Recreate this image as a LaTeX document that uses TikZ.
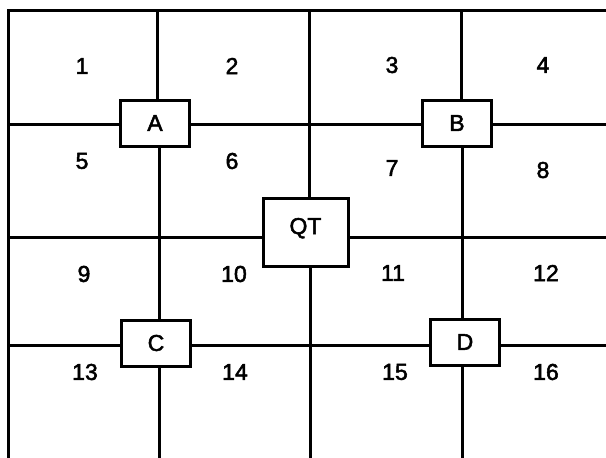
\documentclass[tikz,border=0pt]{standalone}
\usepackage{fontspec}
\setmainfont[FakeBold=2.2,AutoFakeBold=false]{Liberation Sans}
\begin{document}
\begin{tikzpicture}[x=1pt,y=-1pt,
  gridline/.style={line width=3pt,black},
  junction/.style={draw,line width=3pt,fill=white,minimum width=69pt,minimum height=46pt,inner sep=0pt,font=\fontsize{23}{26}\selectfont},
  qtbox/.style={junction,minimum width=85pt,minimum height=68pt,anchor=center},
  cellnum/.style={font=\fontsize{23}{26}\selectfont,inner sep=0pt}]
\useasboundingbox (0,0) rectangle (606,458);
% frame coordinates
\coordinate (tl) at (8,10);
\coordinate (tr) at (606,10);
\coordinate (bl) at (8,458);
\coordinate (v1t) at (157,10);  \coordinate (v1b) at (159,458);
\coordinate (v2t) at (309,10);  \coordinate (v2b) at (310,458);
\coordinate (v3t) at (461,10);  \coordinate (v3b) at (462,458);
\coordinate (h1l) at (8,124);   \coordinate (h1r) at (606,124);
\coordinate (h2l) at (8,237);   \coordinate (h2r) at (606,237);
\coordinate (h3l) at (8,345);   \coordinate (h3r) at (606,345);
% boxes
\node[junction] (A) at (155,123) {A};
\node[junction] (B) at (457,123) {B};
\node[junction] (C) at (156,343) {C};
\node[junction] (D) at (465,342) {D};
\node[qtbox] (QT) at (305.5,232) {\raisebox{12pt}{QT}};
% frame
\draw[gridline] (bl) -- (tl) -- (tr);
% horizontals
\draw[gridline] (h1l) -- (h1l -| A.west);
\draw[gridline] (h1l -| A.east) -- (h1l -| B.west);
\draw[gridline] (h1l -| B.east) -- (h1r);
\draw[gridline] (h2l) -- (h2l -| QT.west);
\draw[gridline] (h2l -| QT.east) -- (h2r);
\draw[gridline] (h3l) -- (h3l -| C.west);
\draw[gridline] (h3l -| C.east) -- (h3l -| D.west);
\draw[gridline] (h3l -| D.east) -- (h3r);
% verticals
\draw[gridline] (v1t) -- (v1t |- A.north);
\draw[gridline] (v1b |- A.south) -- (v1b |- C.north);
\draw[gridline] (v1b |- C.south) -- (v1b);
\draw[gridline] (v2t) -- (v2t |- QT.north);
\draw[gridline] (v2b |- QT.south) -- (v2b);
\draw[gridline] (v3t) -- (v3t |- B.north);
\draw[gridline] (v3b |- B.south) -- (v3b |- D.north);
\draw[gridline] (v3b |- D.south) -- (v3b);
% redraw boxes on top
\node[junction] at (A) {A};
\node[junction] at (B) {B};
\node[junction] at (C) {C};
\node[junction] at (D) {D};
\node[qtbox] at (QT) {\raisebox{12pt}{QT}};
% cell numbers
\node[cellnum] (n1) at (82,66) {1};
\node[cellnum] (n2) at (232,66) {2};
\node[cellnum] (n3) at (392,65) {3};
\node[cellnum] (n4) at (543,65) {4};
\node[cellnum] (n5) at (82,161) {5};
\node[cellnum] (n6) at (232,161) {6};
\node[cellnum] (n7) at (392,168) {7};
\node[cellnum] (n8) at (543,170) {8};
\node[cellnum] (n9) at (84,274) {9};
\node[cellnum] (n10) at (234,274) {10};
\node[cellnum] (n11) at (393,273) {11};
\node[cellnum] (n12) at (546,273) {12};
\node[cellnum] (n13) at (85,372) {13};
\node[cellnum] (n14) at (235,372) {14};
\node[cellnum] (n15) at (395,372) {15};
\node[cellnum] (n16) at (546,372) {16};
\end{tikzpicture}
\end{document}
